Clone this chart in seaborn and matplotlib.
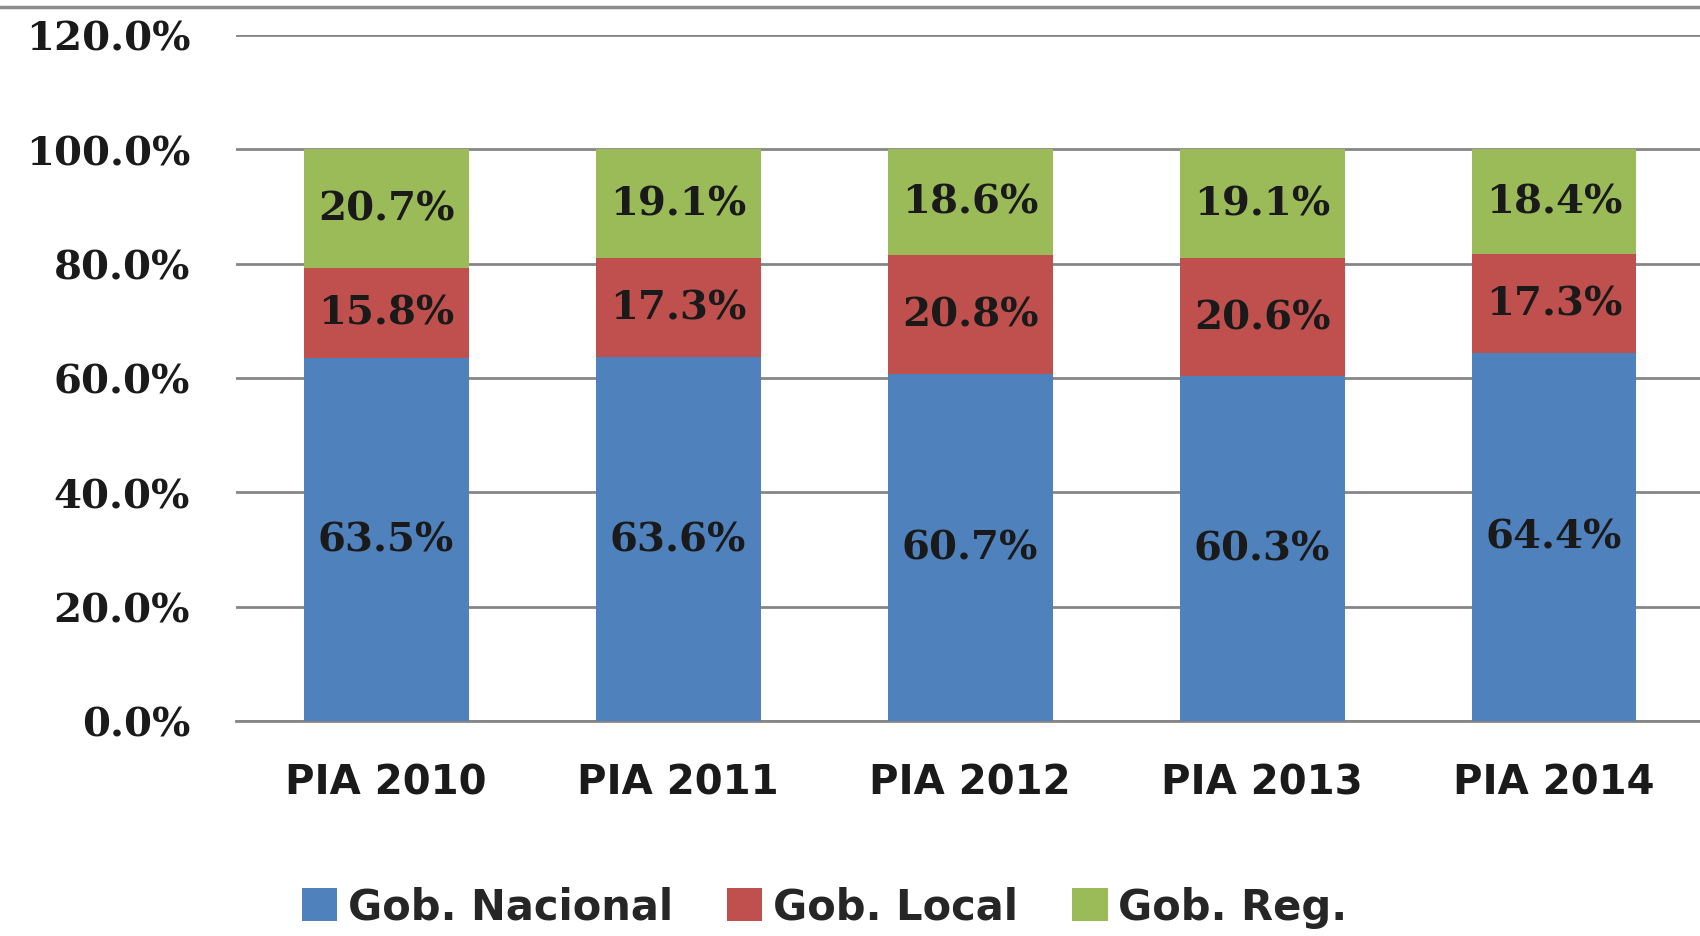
import numpy as np
import pandas as pd
import matplotlib
matplotlib.use('Agg')
import matplotlib.pyplot as plt
import seaborn as sns
from matplotlib.lines import Line2D
from matplotlib.patches import Patch

#%% data
years = ['PIA 2010', 'PIA 2011', 'PIA 2012', 'PIA 2013', 'PIA 2014']
gob_nacional = [63.5, 63.6, 60.7, 60.3, 64.4]
gob_local = [15.8, 17.3, 20.8, 20.6, 17.3]
gob_reg = [20.7, 19.1, 18.6, 19.1, 18.4]

series_names = ['Gob. Nacional', 'Gob. Local', 'Gob. Reg.']
colors = ['#4F81BD', '#C0504D', '#9BBB59']

df = pd.DataFrame({'year': years,
                   'nac': np.array(gob_nacional) / 100,
                   'loc': np.array(gob_local) / 100,
                   'reg': np.array(gob_reg) / 100})
df['nac_loc'] = df['nac'] + df['loc']
df['total'] = df['nac_loc'] + df['reg']

#%% plot
sns.set_style('white')
fig = plt.figure(figsize=(17, 9.37), dpi=100)
ax = fig.add_axes([0.1388, 0.2295, 0.8612, 0.7323])

bar_w = 0.565
# stacked by drawing cumulative totals from the top down
for col, c in zip(['total', 'nac_loc', 'nac'], colors[::-1]):
    sns.barplot(data=df, x='year', y=col, color=c, saturation=1, width=bar_w,
                linewidth=0, ax=ax, zorder=3)

# labels in the middle of each segment
serif = 'DejaVu Serif'
for i in range(len(years)):
    segs = [(0, df['nac'][i], gob_nacional[i]),
            (df['nac'][i], df['nac_loc'][i], gob_local[i]),
            (df['nac_loc'][i], df['total'][i], gob_reg[i])]
    for lo, hi, v in segs:
        ax.text(i, (lo + hi) / 2, f'{v:.1f}%', ha='center', va='center',
                fontsize=29, family=serif, weight='bold', color='#1a1a1a', zorder=4)

ax.set_xlim(-0.514, 4.5)
ax.set_ylim(0, 1.2)
ax.set_yticks(np.arange(0, 1.21, 0.2))
ax.set_yticklabels([f'{t*100:.1f}%' for t in np.arange(0, 1.21, 0.2)],
                   fontsize=29, family=serif, weight='bold', color='#1a1a1a')
ax.set_xticks(range(len(years)))
ax.set_xticklabels(years, fontsize=29, weight='bold', color='#1a1a1a')
ax.tick_params(axis='both', length=0)
ax.tick_params(axis='y', pad=33)
ax.tick_params(axis='x', pad=30)
ax.set_xlabel('')
ax.set_ylabel('')

ax.grid(True, axis='y', color='#868686', linewidth=2, zorder=0)
ax.set_axisbelow(True)
for s in ['top', 'right', 'left']:
    ax.spines[s].set_visible(False)
ax.spines['bottom'].set_color('#868686')
ax.spines['bottom'].set_linewidth(2)

# chart border line at the top
fig.add_artist(Line2D([0, 1], [0.9915, 0.9915], color='#8c8c8c', linewidth=2.5,
                      transform=fig.transFigure))

handles = [Patch(facecolor=c, edgecolor='none') for c in colors]
fig.legend(handles, series_names, loc='center', bbox_to_anchor=(0.485, 0.031),
           ncol=3, frameon=False, prop={'size': 30, 'weight': 'bold'},
           handlelength=0.85, handleheight=0.85, handletextpad=0.25, columnspacing=1.3)

plt.savefig('out.png', dpi=100)
